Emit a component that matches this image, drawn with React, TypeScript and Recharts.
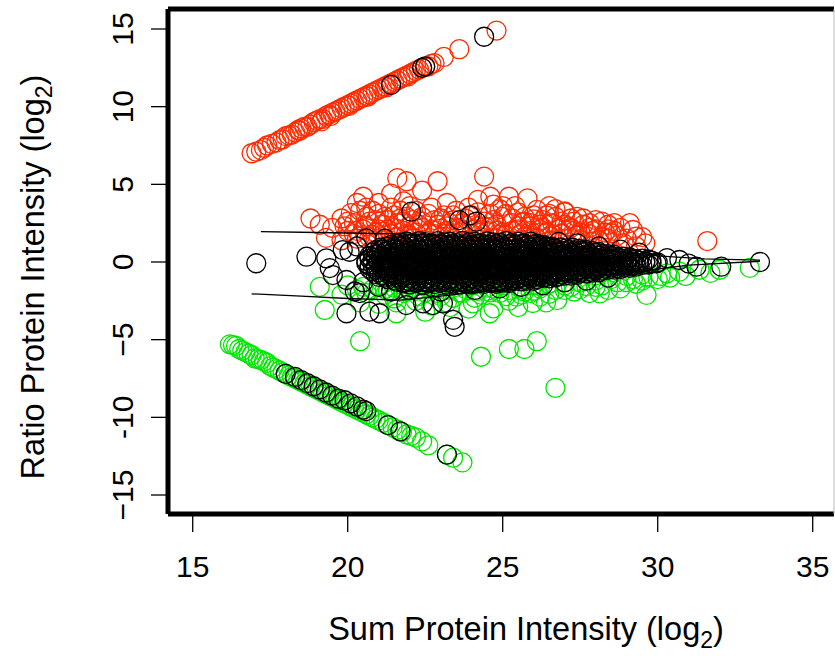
import React from "react";
import { ScatterChart, Scatter, XAxis, YAxis, ReferenceLine, Label } from "recharts";

type Pt = [number, number];

const X_MIN = 14.203;
const X_MAX = 35.687;
const Y_MIN = -16.223;
const Y_MAX = 16.288;

const xTicks = [15, 20, 25, 30, 35];
const yTicks = [-15, -10, -5, 0, 5, 10, 15];
const yTickText: Record<number, string> = {
  "-15": "\u221215",
  "-10": "-10",
  "-5": "\u22125",
  "0": "0",
  "5": "5",
  "10": "10",
  "15": "15",
};

// proteins only quantified in one channel (ratio ~ +/- sum)
const redDiagonal: Pt[] = [
  [16.9, 7.0], [17.2, 7.2], [17.4, 7.5], [17.7, 7.7], [17.9, 7.9], [18.0, 8.1], [18.2, 8.2],
  [18.4, 8.5], [18.5, 8.6], [18.7, 8.7], [18.9, 9.0], [19.0, 9.1], [19.2, 9.2], [19.3, 9.4],
  [19.5, 9.6], [19.6, 9.7], [19.8, 9.9], [19.9, 10.0], [20.1, 10.2], [20.2, 10.3], [20.4, 10.5],
  [20.5, 10.6], [20.7, 10.8], [20.8, 10.9], [21.0, 11.1], [21.1, 11.2], [21.3, 11.4], [21.5, 11.6],
  [21.6, 11.7], [21.8, 11.9], [22.0, 12.1], [22.2, 12.3], [22.4, 12.5], [22.6, 12.6], [22.8, 12.8],
  [23.1, 13.2], [23.6, 13.7], [24.8, 14.9],
  [17.05, 7.1], [17.3, 7.35], [17.55, 7.6], [17.8, 7.85], [18.1, 8.15], [18.3, 8.35], [18.6, 8.7],
  [18.8, 8.85], [19.1, 9.2], [19.4, 9.5], [19.7, 9.8], [20.0, 10.1], [20.3, 10.4], [20.6, 10.7],
  [20.9, 11.0], [21.2, 11.3], [21.4, 11.5], [21.7, 11.8], [21.9, 12.0], [22.1, 12.2], [22.3, 12.4],
  [22.5, 12.55], [22.7, 12.75], [19.15, 9.05], [19.45, 9.4], [20.05, 10.05], [20.65, 10.65],
  [18.45, 8.45], [21.25, 11.25], [21.95, 11.95],
];

const greenDiagonal: Pt[] = [
  [16.2, -5.3], [16.4, -5.4], [16.5, -5.6], [16.7, -5.8], [16.9, -6.0], [17.0, -6.2], [17.2, -6.3],
  [17.4, -6.5], [17.5, -6.7], [17.7, -6.9], [17.9, -7.1], [18.0, -7.2], [18.2, -7.4], [18.4, -7.6],
  [18.6, -7.8], [18.8, -8.0], [19.0, -8.2], [19.2, -8.4], [19.4, -8.6], [19.6, -8.8], [19.8, -9.0],
  [20.0, -9.2], [20.2, -9.4], [20.4, -9.6], [20.6, -9.8], [20.8, -10.0], [21.0, -10.2], [21.3, -10.5],
  [21.6, -10.8], [21.9, -11.1], [22.2, -11.3], [22.6, -11.8], [23.2, -12.4], [23.4, -12.6], [23.7, -12.9],
  [16.3, -5.35], [16.6, -5.7], [16.8, -5.9], [17.1, -6.25], [17.3, -6.4], [17.6, -6.8], [17.8, -7.0],
  [18.1, -7.3], [18.3, -7.5], [18.5, -7.7], [18.7, -7.9], [18.9, -8.1], [19.1, -8.3], [19.3, -8.5],
  [19.5, -8.7], [19.7, -8.9], [19.9, -9.1], [20.1, -9.3], [20.3, -9.5], [20.5, -9.7], [20.7, -9.9],
  [20.9, -10.1], [21.15, -10.35], [21.45, -10.65], [21.75, -10.95], [22.05, -11.2], [22.4, -11.55],
];

const blackUpperDiagonal: Pt[] = [[21.4, 11.4], [22.4, 12.5], [22.5, 12.6], [24.4, 14.5]];

const blackLowerDiagonal: Pt[] = [
  [18.0, -7.2], [18.3, -7.4], [18.5, -7.6], [18.7, -7.8], [18.9, -8.0], [19.1, -8.2], [19.3, -8.4],
  [19.5, -8.6], [19.7, -8.8], [19.9, -8.9], [20.1, -9.1], [20.3, -9.3], [20.5, -9.5], [20.6, -9.6],
  [21.3, -10.5], [21.7, -10.9], [23.2, -12.4],
];

// up-regulated (red) and down-regulated (green) proteins
const redCloud: Pt[] = [
  [19.3, 1.55], [19.8, 1.4], [20.3, 1.5], [20.7, 1.6], [21.2, 1.4], [21.6, 1.6], [22.1, 1.5], [22.5, 1.4],
  [23.0, 1.6], [23.4, 1.5], [23.9, 1.4], [24.3, 1.6], [24.8, 1.5], [25.2, 1.4], [25.7, 1.6], [26.1, 1.5],
  [26.6, 1.4], [27.0, 1.5], [27.5, 1.4], [27.9, 1.3], [28.4, 1.5], [28.9, 1.2], [29.3, 1.0], [29.6, 1.2],
  [31.6, 1.35],
  [19.5, 2.2], [20.0, 2.0], [20.5, 2.1], [20.9, 1.9], [21.3, 2.1], [21.8, 2.0], [22.2, 1.9], [22.7, 2.1],
  [23.2, 2.0], [23.6, 1.9], [24.1, 2.1], [24.5, 2.0], [25.0, 1.9], [25.5, 2.1], [25.9, 2.0], [26.4, 1.9],
  [26.8, 2.1], [27.3, 2.0], [27.8, 1.8], [28.3, 1.9], [28.5, 1.85], [29.2, 2.06], [29.3, 1.63],
  [19.1, 2.4], [20.2, 2.5], [20.7, 2.6], [21.1, 2.4], [21.6, 2.5], [22.4, 2.6], [22.9, 2.4], [23.3, 2.5],
  [24.4, 2.6], [24.8, 2.4], [25.3, 2.5], [25.7, 2.6], [26.2, 2.4], [26.6, 2.5], [27.1, 2.3], [27.6, 2.4],
  [28.2, 2.6], [28.8, 2.2], [29.1, 2.5],
  [18.8, 2.8], [20.1, 3.15], [20.6, 2.9], [21.0, 3.1], [21.5, 3.0], [21.9, 2.9], [22.6, 3.1], [23.1, 3.0],
  [24.6, 3.1], [25.0, 2.9], [25.5, 3.2], [26.0, 3.0], [26.7, 2.9], [27.0, 3.2], [27.6, 2.8], [28.0, 2.7],
  [20.0, 2.6], [20.4, 3.3], [21.3, 2.7], [22.2, 3.3], [23.5, 3.3], [23.8, 2.8], [24.2, 2.3], [26.3, 2.7],
  [27.3, 2.6], [25.9, 2.3], [22.0, 2.3], [23.0, 2.8],
  [20.2, 1.8], [20.6, 2.3], [21.0, 2.1], [21.4, 1.8], [21.8, 2.6], [22.0, 1.7], [22.4, 2.2], [22.8, 1.8],
  [23.2, 2.3], [23.6, 2.2], [24.0, 1.8], [24.4, 2.3], [24.8, 2.0], [25.1, 1.7], [25.5, 2.3], [25.9, 1.7],
  [26.2, 2.1], [26.6, 1.8], [27.0, 2.4], [27.4, 1.75], [27.8, 2.2], [28.2, 1.6], [28.6, 2.0], [29.0, 1.5],
  [20.8, 3.3], [21.7, 3.3], [22.4, 2.9], [23.4, 3.0], [24.2, 3.2], [24.9, 3.4], [25.7, 2.9], [26.5, 3.1],
  [27.4, 2.9], [28.4, 2.4], [19.8, 2.8], [20.9, 2.7], [23.7, 2.5], [25.3, 2.8], [26.9, 2.6], [28.0, 2.1],
  [20.4, 1.65], [20.8, 1.75], [21.1, 1.95], [21.5, 2.2], [21.9, 1.8], [22.3, 2.4], [22.6, 1.85], [23.0, 2.15],
  [23.3, 1.75], [23.7, 2.05], [24.0, 2.5], [24.3, 1.9], [24.6, 2.25], [24.9, 1.75], [25.3, 2.0], [25.6, 1.85],
  [25.9, 2.5], [26.3, 2.2], [26.5, 1.65], [26.9, 1.85], [27.2, 2.2], [27.5, 1.9], [27.9, 2.0], [28.1, 1.4],
  [28.7, 1.7], [21.2, 2.9], [21.7, 2.8], [22.1, 2.7], [22.8, 2.7], [23.4, 2.7], [24.0, 3.0], [24.7, 2.7],
  [25.1, 3.1], [25.6, 2.55], [26.0, 2.75], [26.4, 3.0], [27.2, 2.8], [27.8, 2.5], [28.4, 2.1], [19.9, 2.3],
  [20.3, 2.0], [20.6, 3.5], [21.8, 3.9], [23.9, 3.5], [25.0, 3.6], [26.7, 3.4], [28.6, 2.5], [29.5, 1.6],
  [20.3, 3.8], [21.0, 3.8], [21.4, 3.5], [22.0, 3.6], [22.7, 3.5], [23.2, 3.8], [24.7, 3.7], [25.2, 4.2],
  [25.4, 3.6], [25.8, 4.1], [26.1, 3.35], [26.5, 3.6], [27.0, 3.25], [24.6, 4.2], [20.5, 4.2],
  [21.4, 4.4], [22.4, 4.6], [21.6, 5.4], [21.9, 5.2], [22.9, 5.2], [24.4, 5.5], [24.2, 4.0],
];

const greenCloud: Pt[] = [
  [19.1, -1.6], [20.0, -1.5], [20.5, -1.6], [21.0, -1.5], [21.5, -1.65], [22.0, -1.5], [22.5, -1.6],
  [23.0, -1.55], [23.5, -1.6], [24.0, -1.5], [24.5, -1.65], [25.0, -1.5], [25.5, -1.6], [26.0, -1.5],
  [26.5, -1.4], [27.0, -1.5], [27.5, -1.3], [28.0, -1.2], [28.5, -1.1], [29.0, -0.9], [29.5, -0.8],
  [30.3, -0.73], [30.7, -0.62], [31.35, -0.5], [32.0, -0.5], [32.97, -0.38],
  [20.3, -1.8], [20.8, -1.75], [21.3, -1.85], [21.7, -1.7], [22.2, -1.85], [22.7, -1.75], [23.2, -1.8],
  [23.8, -1.75], [24.2, -1.85], [24.7, -1.7], [25.2, -1.8], [25.7, -1.9], [26.2, -1.7], [26.7, -1.8],
  [27.2, -1.6], [27.7, -1.55], [28.2, -1.5], [28.7, -1.3], [29.2, -1.1], [29.7, -1.0], [30.1, -0.9],
  [25.9, -2.0], [27.8, -2.0], [23.4, -2.3], [21.5, -2.35],
  [21.2, -1.75], [21.9, -1.9], [22.5, -1.95], [23.0, -2.2], [23.6, -1.95], [24.1, -2.3], [24.6, -1.95],
  [25.1, -2.2], [25.6, -2.1], [26.0, -1.85], [26.5, -2.05], [27.0, -1.8], [27.5, -1.75], [28.0, -1.6],
  [28.4, -1.8], [29.0, -1.3], [29.5, -1.2], [30.4, -1.0], [30.9, -0.9], [31.7, -0.7], [23.3, -2.9],
  [25.5, -2.9], [26.4, -2.6],
  [19.8, -2.1], [20.6, -2.0], [21.2, -2.1], [21.8, -2.0], [22.3, -2.2], [22.9, -2.0], [23.7, -2.0],
  [24.3, -2.1], [24.9, -2.0], [25.44, -2.23], [26.2, -2.23], [26.76, -2.45], [27.3, -1.9], [28.13, -2.02],
  [28.8, -1.7], [29.64, -2.12], [29.3, -1.4], [30.0, -1.1],
  [20.4, -2.6], [21.0, -2.7], [21.57, -2.6], [22.2, -2.5], [22.7, -2.8], [23.2, -2.6], [24.04, -2.66],
  [24.7, -2.98], [25.2, -2.5], [25.97, -2.64],
  [19.26, -3.09], [21.57, -3.3], [24.58, -3.3], [22.5, -3.2], [23.9, -3.0],
  [20.4, -5.1], [24.3, -6.1], [25.2, -5.6], [25.7, -5.6], [26.1, -5.1], [26.7, -8.1],
];

// unchanged proteins, sparse outskirts
const blackScatter: Pt[] = [
  [17.05, -0.08], [18.67, 0.34], [19.31, 0.24], [19.42, -0.39], [19.52, -0.84], [19.96, -1.16],
  [19.84, 0.77], [20.06, 0.66], [20.6, 1.52], [20.23, -1.9], [20.39, -2.0], [19.96, -3.3], [20.7, -3.2],
  [21.03, -3.3], [21.89, -2.77], [22.43, -2.66], [22.75, -2.77], [23.07, -2.66], [23.4, -3.73],
  [23.45, -4.17], [22.05, 3.24], [23.6, 2.7], [23.94, 3.0], [24.15, 2.6],
  [21.0, -1.6], [21.4, -1.9], [22.0, -1.8], [23.0, -1.9], [24.1, -1.8], [24.9, -1.7], [25.6, -1.6],
  [26.3, -1.5], [27.0, -1.3], [27.7, -1.2], [28.4, -1.0], [20.5, -1.3], [20.3, 1.0], [21.2, 1.5],
  [26.8, 1.3], [27.4, 1.2], [28.1, 1.0], [28.8, 0.8], [29.4, 0.6], [29.96, -0.08], [30.3, 0.25],
  [30.7, 0.13], [31.0, -0.1], [31.25, -0.3], [32.05, -0.3], [33.3, 0.0],
];

// unchanged proteins, dense core
const blackCore: Pt[] = [
  [21.7, 1.25], [21.9, 1.32], [22.1, 1.22], [22.3, 1.35], [22.5, 1.28], [22.7, 1.2], [22.9, 1.34], [23.1, 1.27],
  [23.3, 1.31], [23.5, 1.22], [23.7, 1.36], [23.9, 1.26], [24.1, 1.3], [24.3, 1.21], [24.5, 1.33], [24.7, 1.27],
  [24.9, 1.24], [25.1, 1.35], [25.3, 1.22], [25.5, 1.29], [25.7, 1.2], [25.9, 1.31], [26.1, 1.18], [26.3, 1.1],
  [21.4, 1.1], [21.6, 1.15], [21.8, 1.08], [22.0, 1.14], [22.2, 1.1], [22.4, 1.16], [22.6, 1.07], [22.8, 1.12],
  [23.0, 1.15], [23.2, 1.09], [23.4, 1.13], [23.6, 1.06], [23.8, 1.14], [24.0, 1.1], [24.2, 1.16], [24.4, 1.08],
  [24.6, 1.12], [24.8, 1.15], [25.0, 1.07], [25.2, 1.13], [25.4, 1.1], [25.6, 1.16], [25.8, 1.08], [26.0, 1.12],
  [26.2, 1.05], [26.4, 1.02], [26.6, 0.98],
  [21.05, 0.92], [21.25, 0.99], [21.45, 0.9], [21.65, 1.0], [21.85, 0.93], [22.05, 0.97], [22.25, 0.89],
  [22.45, 1.01], [22.65, 0.94], [22.85, 0.96], [23.05, 0.9], [23.25, 1.0], [23.45, 0.93], [23.65, 0.98],
  [23.85, 0.91], [24.05, 0.99], [24.25, 0.94], [24.45, 0.9], [24.65, 1.0], [24.85, 0.95], [25.05, 0.92],
  [25.25, 0.99], [25.45, 0.9], [25.65, 0.97], [25.85, 0.93], [26.05, 1.0], [26.25, 0.91], [26.45, 0.96],
  [26.65, 0.9], [26.85, 0.94], [27.05, 0.88], [27.25, 0.92], [27.45, 0.85], [27.65, 0.8],
  [20.9, 0.76], [21.1, 0.8], [21.3, 0.74], [21.5, 0.81], [21.7, 0.77], [21.9, 0.73], [22.1, 0.8], [22.3, 0.76],
  [22.5, 0.82], [22.7, 0.75], [22.9, 0.79], [23.1, 0.73], [23.3, 0.81], [23.5, 0.77], [23.7, 0.74], [23.9, 0.8],
  [24.1, 0.76], [24.3, 0.82], [24.5, 0.75], [24.7, 0.79], [24.9, 0.73], [25.1, 0.8], [25.3, 0.76], [25.5, 0.81],
  [25.7, 0.74], [25.9, 0.78], [26.1, 0.75], [26.3, 0.8], [26.5, 0.73], [26.7, 0.77], [26.9, 0.72], [27.1, 0.76],
  [27.3, 0.7], [27.5, 0.73], [27.7, 0.68], [27.9, 0.7], [28.1, 0.65],
  [20.8, 0.62], [21.0, 0.55], [21.2, 0.64], [21.4, 0.58], [21.6, 0.61], [21.8, 0.54], [22.0, 0.66], [22.2, 0.59],
  [22.4, 0.63], [22.6, 0.56], [22.8, 0.6], [23.0, 0.65], [23.2, 0.57], [23.4, 0.62], [23.6, 0.55], [23.8, 0.64],
  [24.0, 0.58], [24.2, 0.61], [24.4, 0.54], [24.6, 0.66], [24.8, 0.59], [25.0, 0.63], [25.2, 0.56], [25.4, 0.6],
  [25.6, 0.65], [25.8, 0.57], [26.0, 0.62], [26.2, 0.55], [26.4, 0.64], [26.6, 0.58], [26.8, 0.61], [27.0, 0.54],
  [27.2, 0.6], [27.4, 0.57], [27.6, 0.62], [27.8, 0.55], [28.0, 0.58], [28.2, 0.52], [28.4, 0.5], [28.6, 0.46],
  [20.7, 0.4], [20.9, 0.45], [21.1, 0.38], [21.3, 0.44], [21.5, 0.41], [21.7, 0.46], [21.9, 0.39], [22.1, 0.43],
  [22.3, 0.37], [22.5, 0.45], [22.7, 0.42], [22.9, 0.38], [23.1, 0.46], [23.3, 0.4], [23.5, 0.44], [23.7, 0.37],
  [23.9, 0.43], [24.1, 0.41], [24.3, 0.46], [24.5, 0.38], [24.7, 0.44], [24.9, 0.4], [25.1, 0.45], [25.3, 0.37],
  [25.5, 0.42], [25.7, 0.46], [25.9, 0.39], [26.1, 0.44], [26.3, 0.4], [26.5, 0.45], [26.7, 0.38], [26.9, 0.42],
  [27.1, 0.39], [27.3, 0.44], [27.5, 0.37], [27.7, 0.41], [27.9, 0.36], [28.1, 0.4], [28.3, 0.35], [28.5, 0.37],
  [28.7, 0.33], [28.9, 0.35], [29.1, 0.3],
  [20.7, 0.22], [20.9, 0.28], [21.1, 0.2], [21.3, 0.3], [21.5, 0.24], [21.7, 0.27], [21.9, 0.19], [22.1, 0.31],
  [22.3, 0.23], [22.5, 0.26], [22.7, 0.2], [22.9, 0.29], [23.1, 0.22], [23.3, 0.28], [23.5, 0.21], [23.7, 0.3],
  [23.9, 0.25], [24.1, 0.19], [24.3, 0.29], [24.5, 0.23], [24.7, 0.27], [24.9, 0.2], [25.1, 0.3], [25.3, 0.24],
  [25.5, 0.26], [25.7, 0.19], [25.9, 0.31], [26.1, 0.22], [26.3, 0.28], [26.5, 0.21], [26.7, 0.27], [26.9, 0.23],
  [27.1, 0.29], [27.3, 0.2], [27.5, 0.26], [27.7, 0.22], [27.9, 0.28], [28.1, 0.21], [28.3, 0.25], [28.5, 0.19],
  [28.7, 0.24], [28.9, 0.2], [29.1, 0.23], [29.3, 0.18], [29.5, 0.22], [29.7, 0.16],
  [20.6, 0.06], [20.8, 0.1], [21.0, 0.04], [21.2, 0.09], [21.4, 0.05], [21.6, 0.11], [21.8, 0.03], [22.0, 0.08],
  [22.2, 0.1], [22.4, 0.04], [22.6, 0.09], [22.8, 0.06], [23.0, 0.11], [23.2, 0.03], [23.4, 0.07], [23.6, 0.1],
  [23.8, 0.05], [24.0, 0.09], [24.2, 0.04], [24.4, 0.1], [24.6, 0.06], [24.8, 0.08], [25.0, 0.03], [25.2, 0.11],
  [25.4, 0.05], [25.6, 0.09], [25.8, 0.04], [26.0, 0.1], [26.2, 0.06], [26.4, 0.08], [26.6, 0.03], [26.8, 0.1],
  [27.0, 0.05], [27.2, 0.09], [27.4, 0.04], [27.6, 0.07], [27.8, 0.1], [28.0, 0.05], [28.2, 0.08], [28.4, 0.03],
  [28.6, 0.07], [28.8, 0.05], [29.0, 0.09], [29.2, 0.04], [29.4, 0.07], [29.6, 0.05], [29.8, 0.08],
  [20.6, -0.08], [20.8, -0.14], [21.0, -0.05], [21.2, -0.12], [21.4, -0.07], [21.6, -0.15], [21.8, -0.06],
  [22.0, -0.11], [22.2, -0.04], [22.4, -0.13], [22.6, -0.09], [22.8, -0.16], [23.0, -0.05], [23.2, -0.12],
  [23.4, -0.08], [23.6, -0.14], [23.8, -0.06], [24.0, -0.1], [24.2, -0.15], [24.4, -0.05], [24.6, -0.12],
  [24.8, -0.08], [25.0, -0.14], [25.2, -0.06], [25.4, -0.11], [25.6, -0.04], [25.8, -0.13], [26.0, -0.09],
  [26.2, -0.15], [26.4, -0.06], [26.6, -0.12], [26.8, -0.07], [27.0, -0.14], [27.2, -0.05], [27.4, -0.11],
  [27.6, -0.08], [27.8, -0.13], [28.0, -0.06], [28.2, -0.1], [28.4, -0.04], [28.6, -0.12], [28.8, -0.07],
  [29.0, -0.11], [29.2, -0.05], [29.4, -0.09], [29.6, -0.03], [29.8, -0.08], [30.0, -0.02],
  [20.7, -0.25], [20.9, -0.3], [21.1, -0.24], [21.3, -0.29], [21.5, -0.26], [21.7, -0.31], [21.9, -0.23],
  [22.1, -0.28], [22.3, -0.3], [22.5, -0.24], [22.7, -0.29], [22.9, -0.26], [23.1, -0.31], [23.3, -0.23],
  [23.5, -0.27], [23.7, -0.3], [23.9, -0.25], [24.1, -0.29], [24.3, -0.24], [24.5, -0.3], [24.7, -0.26],
  [24.9, -0.28], [25.1, -0.23], [25.3, -0.31], [25.5, -0.25], [25.7, -0.29], [25.9, -0.24], [26.1, -0.3],
  [26.3, -0.26], [26.5, -0.28], [26.7, -0.23], [26.9, -0.3], [27.1, -0.25], [27.3, -0.29], [27.5, -0.24],
  [27.7, -0.27], [27.9, -0.3], [28.1, -0.24], [28.3, -0.27], [28.5, -0.22], [28.7, -0.26], [28.9, -0.21],
  [29.1, -0.24], [29.3, -0.19], [29.5, -0.2], [29.7, -0.16],
  [20.7, -0.42], [20.9, -0.48], [21.1, -0.4], [21.3, -0.5], [21.5, -0.44], [21.7, -0.47], [21.9, -0.39],
  [22.1, -0.51], [22.3, -0.43], [22.5, -0.46], [22.7, -0.4], [22.9, -0.49], [23.1, -0.42], [23.3, -0.48],
  [23.5, -0.41], [23.7, -0.5], [23.9, -0.45], [24.1, -0.39], [24.3, -0.49], [24.5, -0.43], [24.7, -0.47],
  [24.9, -0.4], [25.1, -0.5], [25.3, -0.44], [25.5, -0.46], [25.7, -0.39], [25.9, -0.51], [26.1, -0.42],
  [26.3, -0.48], [26.5, -0.41], [26.7, -0.47], [26.9, -0.43], [27.1, -0.49], [27.3, -0.4], [27.5, -0.46],
  [27.7, -0.42], [27.9, -0.45], [28.1, -0.38], [28.3, -0.43], [28.5, -0.36], [28.7, -0.4], [28.9, -0.34],
  [29.1, -0.37], [29.3, -0.3],
  [20.8, -0.6], [21.0, -0.65], [21.2, -0.59], [21.4, -0.64], [21.6, -0.61], [21.8, -0.66], [22.0, -0.58],
  [22.2, -0.63], [22.4, -0.65], [22.6, -0.59], [22.8, -0.64], [23.0, -0.61], [23.2, -0.66], [23.4, -0.58],
  [23.6, -0.62], [23.8, -0.65], [24.0, -0.6], [24.2, -0.64], [24.4, -0.59], [24.6, -0.65], [24.8, -0.61],
  [25.0, -0.63], [25.2, -0.58], [25.4, -0.66], [25.6, -0.6], [25.8, -0.64], [26.0, -0.59], [26.2, -0.63],
  [26.4, -0.6], [26.6, -0.62], [26.8, -0.57], [27.0, -0.61], [27.2, -0.56], [27.4, -0.59], [27.6, -0.55],
  [27.8, -0.57], [28.0, -0.52], [28.2, -0.55], [28.4, -0.5], [28.6, -0.49], [28.8, -0.45],
  [20.9, -0.78], [21.1, -0.84], [21.3, -0.75], [21.5, -0.86], [21.7, -0.79], [21.9, -0.82], [22.1, -0.74],
  [22.3, -0.87], [22.5, -0.8], [22.7, -0.83], [22.9, -0.76], [23.1, -0.85], [23.3, -0.78], [23.5, -0.84],
  [23.7, -0.77], [23.9, -0.86], [24.1, -0.8], [24.3, -0.75], [24.5, -0.85], [24.7, -0.79], [24.9, -0.83],
  [25.1, -0.76], [25.3, -0.86], [25.5, -0.8], [25.7, -0.82], [25.9, -0.75], [26.1, -0.84], [26.3, -0.78],
  [26.5, -0.81], [26.7, -0.74], [26.9, -0.79], [27.1, -0.72], [27.3, -0.77], [27.5, -0.7], [27.7, -0.74],
  [27.9, -0.68], [28.1, -0.66],
  [21.0, -0.96], [21.2, -1.0], [21.4, -0.94], [21.6, -0.99], [21.8, -0.97], [22.0, -1.01], [22.2, -0.93],
  [22.4, -0.98], [22.6, -1.0], [22.8, -0.95], [23.0, -0.99], [23.2, -0.96], [23.4, -1.01], [23.6, -0.94],
  [23.8, -0.98], [24.0, -1.0], [24.2, -0.95], [24.4, -0.99], [24.6, -0.94], [24.8, -1.0], [25.0, -0.96],
  [25.2, -0.98], [25.4, -0.93], [25.6, -0.99], [25.8, -0.95], [26.0, -0.97], [26.2, -0.92], [26.4, -0.95],
  [26.6, -0.9], [26.8, -0.92], [27.0, -0.87], [27.2, -0.88], [27.4, -0.83],
  [21.3, -1.12], [21.5, -1.18], [21.7, -1.1], [21.9, -1.2], [22.1, -1.14], [22.3, -1.17], [22.5, -1.09],
  [22.7, -1.21], [22.9, -1.13], [23.1, -1.16], [23.3, -1.1], [23.5, -1.19], [23.7, -1.12], [23.9, -1.18],
  [24.1, -1.11], [24.3, -1.2], [24.5, -1.15], [24.7, -1.09], [24.9, -1.19], [25.1, -1.13], [25.3, -1.17],
  [25.5, -1.1], [25.7, -1.14], [25.9, -1.06], [26.1, -1.1], [26.3, -1.02], [26.5, -1.05], [26.7, -0.98],
  [21.6, -1.28], [21.8, -1.3], [22.0, -1.26], [22.2, -1.31], [22.4, -1.27], [22.6, -1.3], [22.8, -1.25],
  [23.0, -1.29], [23.2, -1.31], [23.4, -1.26], [23.6, -1.3], [23.8, -1.27], [24.0, -1.31], [24.2, -1.25],
  [24.4, -1.29], [24.6, -1.27], [24.8, -1.3], [25.0, -1.24], [25.2, -1.27], [25.4, -1.22], [25.6, -1.25],
  [25.8, -1.2], [26.0, -1.21],
  [21.8, -1.38], [22.0, -1.44], [22.2, -1.36], [22.4, -1.45], [22.6, -1.39], [22.8, -1.42], [23.0, -1.35],
  [23.2, -1.46], [23.4, -1.4], [23.6, -1.43], [23.8, -1.37], [24.0, -1.44], [24.2, -1.38], [24.4, -1.41],
  [24.6, -1.35], [24.8, -1.4], [25.0, -1.33], [25.2, -1.36],
];

// +/- 2 SD trend curves
const upperTrend: Pt[] = [
  [17.2, 1.95], [19.0, 1.9], [20.5, 1.85], [22.0, 1.8], [24.0, 1.6], [26.0, 1.25], [28.0, 0.85],
  [30.0, 0.4], [31.5, 0.2], [33.3, 0.12],
];
const lowerTrend: Pt[] = [
  [16.9, -2.05], [18.5, -2.2], [20.0, -2.35], [21.7, -2.45], [23.0, -2.2], [25.0, -1.75], [27.0, -1.2],
  [29.0, -0.7], [31.0, -0.2], [33.3, 0.05],
];

const RED = "#ff2a00";
const GREEN = "#00e600";
const BLACK = "#000000";
const FONT = "'Liberation Sans', Arial, sans-serif";
const FS = 30;
const LABEL_FS = 32.5;

const toXY = (pts: Pt[]) => pts.map(([x, y]) => ({ x, y }));

const ring = (color: string) => (props: any) => (
  <circle cx={props.cx} cy={props.cy} r={9.5} fill="none" stroke={color} strokeWidth={1.3} />
);

const XTick = (props: any) => {
  const { x, y, payload } = props;
  return (
    <text x={x} y={y + 43} textAnchor="middle" fontSize={FS} fontFamily={FONT} fill="#000">
      {payload.value}
    </text>
  );
};

const YTick = (props: any) => {
  const { x, y, payload } = props;
  const bx = x - 16;
  return (
    <text
      x={bx}
      y={y}
      transform={`rotate(-90, ${bx}, ${y})`}
      textAnchor="middle"
      fontSize={FS}
      fontFamily={FONT}
      fill="#000"
    >
      {yTickText[payload.value] ?? payload.value}
    </text>
  );
};

const App: React.FC = () => {
  return (
    <div style={{ position: "absolute", left: 0, top: 0, width: 835, height: 656, background: "#fff" }}>
      <ScatterChart width={835} height={656} margin={{ top: 9, right: 1, bottom: 0, left: 0 }}>
        <XAxis
          type="number"
          dataKey="x"
          domain={[X_MIN, X_MAX]}
          allowDataOverflow
          ticks={xTicks}
          height={142}
          axisLine={false}
          tickSize={18}
          tickLine={{ stroke: "#000", strokeWidth: 1.3 }}
          tick={<XTick />}
          interval={0}
        >
          <Label
            content={() => (
              <text x={526} y={640} textAnchor="middle" fontSize={LABEL_FS} fontFamily={FONT} fill="#000">
                Sum Protein Intensity (log
                <tspan fontSize={23} dy={8}>2</tspan>
                <tspan dy={-8}>)</tspan>
              </text>
            )}
          />
        </XAxis>
        <YAxis
          type="number"
          dataKey="y"
          domain={[Y_MIN, Y_MAX]}
          allowDataOverflow
          ticks={yTicks}
          width={168}
          axisLine={false}
          tickSize={17}
          tickLine={{ stroke: "#000", strokeWidth: 1.3 }}
          tick={<YTick />}
          interval={0}
        >
          <Label
            content={() => (
              <text
                x={44}
                y={277}
                transform="rotate(-90, 44, 277)"
                textAnchor="middle"
                fontSize={LABEL_FS}
                fontFamily={FONT}
                fill="#000"
              >
                Ratio Protein Intensity (log
                <tspan fontSize={23} dy={8}>2</tspan>
                <tspan dy={-8}>)</tspan>
              </text>
            )}
          />
        </YAxis>

        <Scatter data={toXY(redDiagonal)} shape={ring(RED)} isAnimationActive={false} />
        <Scatter data={toXY(greenDiagonal)} shape={ring(GREEN)} isAnimationActive={false} />
        <Scatter data={toXY(redCloud)} shape={ring(RED)} isAnimationActive={false} />
        <Scatter data={toXY(greenCloud)} shape={ring(GREEN)} isAnimationActive={false} />
        <Scatter data={toXY(blackCore)} shape={ring(BLACK)} isAnimationActive={false} />
        <Scatter data={toXY(blackScatter)} shape={ring(BLACK)} isAnimationActive={false} />
        <Scatter data={toXY(blackUpperDiagonal)} shape={ring(BLACK)} isAnimationActive={false} />
        <Scatter data={toXY(blackLowerDiagonal)} shape={ring(BLACK)} isAnimationActive={false} />

        <Scatter
          data={toXY(upperTrend)}
          line={{ stroke: "#000", strokeWidth: 1.3 }}
          shape={() => <g />}
          isAnimationActive={false}
        />
        <Scatter
          data={toXY(lowerTrend)}
          line={{ stroke: "#000", strokeWidth: 1.3 }}
          shape={() => <g />}
          isAnimationActive={false}
        />

        <ReferenceLine x={X_MIN} stroke="#000" strokeWidth={5} />
        <ReferenceLine y={Y_MAX} stroke="#000" strokeWidth={5} />
        <ReferenceLine y={Y_MIN} stroke="#000" strokeWidth={5} />
        <ReferenceLine x={X_MAX} stroke="#bbb" strokeWidth={1} />
      </ScatterChart>
    </div>
  );
};

export default App;
